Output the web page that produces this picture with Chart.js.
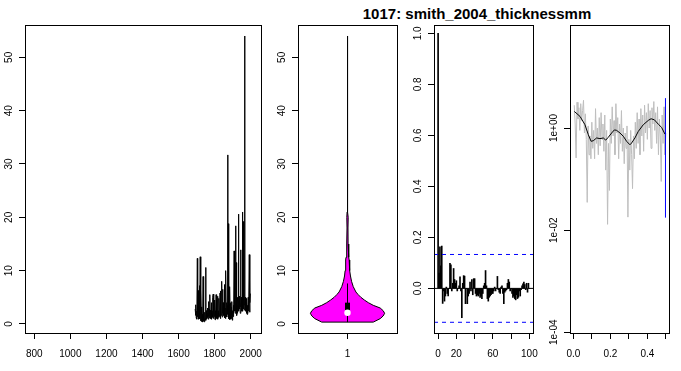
<!DOCTYPE html>
<html>
<head>
<meta charset="utf-8">
<script src="https://cdn.jsdelivr.net/npm/chart.js@4.4.1/dist/chart.umd.min.js"></script>
<style>
  html, body { margin: 0; padding: 0; background: #fff; }
  #wrap { position: relative; width: 681px; height: 371px; overflow: hidden; background: #fff; }
  .panel { position: absolute; top: 0; }
  #title {
    position: absolute; left: 477px; top: 6px; transform: translateX(-50%);
    font: bold 15px "Liberation Sans", Arial, sans-serif; line-height: 15px;
    white-space: nowrap; color: #000;
  }
</style>
</head>
<body>
<div id="wrap">
  <div id="title">1017: smith_2004_thicknessmm</div>
  <canvas id="c1" class="panel"></canvas>
  <canvas id="c2" class="panel"></canvas>
  <canvas id="c3" class="panel"></canvas>
  <canvas id="c4" class="panel"></canvas>
</div>
<script>
// ---- data ----

// panel 1: thickness series, one value every 2 years from 1692
const yearStart = 1692;
const yearStep = 2;
const thickness = [
  2.8, 1.6, 3.6, 1.1, 2.4, 0.9, 12.3, 1.4, 4.0, 6.3,
  0.9, 3.0, 7.2, 1.0, 12.6, 0.6, 6.4, 0.5, 3.2, 0.4,
  1.8, 0.4, 8.9, 0.5, 1.5, 0.4, 2.2, 0.6, 1.0, 10.6,
  0.7, 2.5, 1.0, 2.0, 1.2, 3.0, 0.9, 4.2, 1.4, 2.8,
  1.1, 5.5, 1.0, 2.6, 1.3, 4.0, 0.9, 2.5, 1.2, 5.0,
  5.6, 1.0, 2.8, 1.4, 4.5, 0.8, 2.5, 1.2, 5.5, 1.0,
  3.0, 1.3, 5.2, 0.9, 2.5, 1.2, 4.8, 1.4, 3.0, 5.8,
  1.0, 6.2, 1.6, 3.5, 8.0, 1.3, 6.5, 2.0, 4.0, 1.6,
  3.5, 7.4, 1.2, 3.0, 1.0, 10.0, 2.2, 4.0, 1.3, 3.5,
  31.7, 1.8, 18.8, 1.0, 3.8, 0.8, 7.0, 1.2, 4.0, 0.9,
  3.2, 1.0, 4.2, 0.7, 2.5, 1.4, 3.5, 2.0, 13.7, 2.4,
  4.5, 2.0, 18.4, 2.4, 11.5, 1.6, 3.5, 2.0, 5.0, 2.8,
  20.6, 2.4, 5.2, 2.8, 4.5, 2.0, 13.9, 3.2, 5.0, 2.4,
  4.0, 21.0, 2.4, 19.2, 2.8, 5.5, 2.6, 54.0, 3.5, 5.0,
  2.4, 4.0, 2.0, 4.8, 1.8, 3.5, 2.0, 5.0, 2.4, 4.5,
  13.0, 2.2, 4.0, 5.7
];
const yearTicks = [800, 1000, 1200, 1400, 1600, 1800, 2000];
const valueTicks = [0, 10, 20, 30, 40, 50];

// panel 2: violin outline (value, half width) and box stats
const violinY    = [0.35, 1.0, 1.5, 2.0, 2.5, 3.0, 3.5, 4.0, 4.5, 5.0, 5.5, 6.0, 7.0, 8.0, 9.0, 10.0, 11.0, 12.0, 12.5, 13.0, 15.0, 18.0, 20.0, 21.0, 23.0, 30.0, 54.0];
const violinHalf = [0.26, 0.33, 0.36, 0.375, 0.36, 0.33, 0.26, 0.21, 0.17, 0.135, 0.108, 0.085, 0.058, 0.041, 0.03, 0.024, 0.02, 0.017, 0.015, 0.01, 0.006, 0.005, 0.007, 0.004, 0.004, 0.002, 0.0];
const boxStats = { whiskerLow: 0.35, q1: 1.9, median: 2.1, q3: 4.0, whiskerHigh: 7.6 };

// panel 3: autocorrelation, lags 0..100
const acf = [
  1.0, 0.06, 0.163, 0.088, 0.166, -0.059, -0.01, -0.05, -0.03, 0.005,
  -0.02, -0.03, 0.0, 0.098, 0.092, -0.01, 0.02, 0.078, 0.035, 0.02,
  0.03, -0.01, 0.0, 0.01, 0.045, -0.01, -0.115, 0.02, 0.05, 0.048,
  -0.06, 0.0, -0.06, -0.03, -0.02, 0.025, -0.01, 0.035, -0.025, 0.038,
  0.038, -0.02, -0.03, -0.025, -0.03, -0.02, -0.035, -0.03, -0.04, -0.02,
  0.01, 0.02, 0.07, 0.01, -0.04, -0.05, -0.035, -0.03, -0.025, -0.02,
  -0.02, -0.01, 0.005, -0.01, 0.0, 0.047, -0.005, -0.015, -0.02, 0.005,
  0.01, -0.02, -0.06, -0.015, -0.01, -0.005, 0.02, 0.035, 0.025, -0.01,
  0.0, -0.02, -0.035, -0.03, -0.04, -0.045, -0.025, -0.04, -0.035, -0.01,
  -0.03, -0.005, 0.01, 0.018, 0.025, 0.015, -0.005, 0.02, -0.015, 0.02,
  0.0
];
const acfCI = 0.133;
const lagTicks = [0, 20, 40, 60, 80, 100];
const lagLabels = ['0', '20', '', '60', '', '100'];
const acfTicks = [0, 0.2, 0.4, 0.6, 0.8, 1.0];

// panel 4: raw periodogram (freq 0.005..0.5 step 0.005), smoothed spectrum, CI bar
const freqStep = 0.005;
const specRaw = [
  2.8, 1.2, 0.26, 3.2, 1.5, 2.5, 0.9, 3.0, 1.4, 2.2,
  3.5, 0.8, 1.9, 0.6, 0.035, 1.1, 0.3, 0.7, 0.25, 1.3,
  0.4, 0.9, 0.25, 2.4, 0.5, 1.0, 0.3, 1.6, 0.45, 2.0,
  0.6, 1.2, 0.35, 1.8, 0.15, 0.9, 0.013, 0.5, 0.06, 1.5,
  0.5, 2.6, 0.7, 1.4, 0.3, 3.0, 0.8, 1.6, 0.25, 1.2,
  0.5, 2.2, 0.35, 1.0, 0.2, 0.8, 0.4, 1.1, 0.018, 0.6,
  0.15, 0.9, 0.3, 0.065, 0.7, 0.25, 1.3, 0.4, 2.0, 0.5,
  1.5, 0.3, 2.4, 0.7, 1.8, 0.35, 2.8, 0.8, 2.0, 0.6,
  3.0, 1.0, 2.2, 0.4, 2.5, 1.2, 3.3, 0.9, 2.0, 0.5,
  2.6, 0.3, 1.5, 0.7, 0.09, 1.8, 0.5, 2.6, 0.3, 0.8
];
const smoothFreq = [0.0056, 0.036, 0.063, 0.081, 0.096, 0.108, 0.126, 0.144, 0.162, 0.175, 0.189, 0.207, 0.222, 0.234, 0.252, 0.270, 0.288, 0.306, 0.315, 0.333, 0.351, 0.378, 0.405, 0.420, 0.438, 0.459, 0.477, 0.495];
const smoothSpec = [2.11, 1.69, 1.16, 0.74, 0.55, 0.565, 0.64, 0.62, 0.64, 0.58, 0.66, 0.80, 0.92, 0.90, 0.80, 0.69, 0.55, 0.47, 0.51, 0.64, 0.86, 1.16, 1.41, 1.52, 1.45, 1.19, 1.03, 0.76];
const ciFreq = 0.498;
const ciRange = [0.0176, 3.85];
const freqTicks = [0, 0.1, 0.2, 0.3, 0.4, 0.5];
const freqLabels = ['0.0', '', '0.2', '', '0.4', ''];
const specTicks = [1e-4, 1e-2, 1];
const specLabels = ['1e-04', '1e-02', '1e+00'];

// ---- layout helpers ----
const AXIS_W = 30, AXIS_H = 38, TOP = 25, RIGHT_PAD = 8, H = 371;
const FONT = '"Liberation Sans", Arial, sans-serif';

function place(id, boxLeft, boxRight) {
  const c = document.getElementById(id);
  c.width = boxRight - boxLeft + AXIS_W + RIGHT_PAD;
  c.height = H;
  c.style.left = (boxLeft - AXIS_W) + 'px';
  return c;
}

function axis(pos, type, min, max, ticks, labels) {
  return {
    type: type, position: pos, min: min, max: max,
    afterBuildTicks: s => { s.ticks = ticks.map(v => ({ value: v })); },
    afterFit: s => {
      if (pos === 'bottom') s.height = AXIS_H; else s.width = AXIS_W;
      s.paddingLeft = s.paddingRight = s.paddingTop = s.paddingBottom = 0;
    },
    grid: { display: true, drawOnChartArea: false, drawTicks: true, tickLength: 6, tickColor: '#000', tickWidth: 1, color: '#000', offset: false },
    border: { display: true, color: '#000', width: 1 },
    offset: false,
    ticks: {
      display: pos === 'bottom', autoSkip: false, maxRotation: 0, minRotation: 0,
      padding: 9, color: '#000', font: { family: FONT, size: 10 },
      callback: (v, i) => labels[i]
    },
    _labels: labels
  };
}

// rotated y labels like R's las = 0, plus the box round the plot
const rFrame = {
  id: 'rFrame',
  afterDraw(chart) {
    const ctx = chart.ctx, a = chart.chartArea, s = chart.scales.y;
    const labels = s.options._labels;
    ctx.save();
    ctx.font = '10px ' + FONT;
    ctx.fillStyle = '#000';
    ctx.textAlign = 'center';
    ctx.textBaseline = 'middle';
    s.ticks.forEach((t, i) => {
      const y = s.getPixelForValue(t.value);
      ctx.save();
      ctx.translate(a.left - 16, y);
      ctx.rotate(-Math.PI / 2);
      ctx.fillText(labels[i], 0, 0);
      ctx.restore();
    });
    ctx.strokeStyle = '#000';
    ctx.lineWidth = 1;
    ctx.strokeRect(Math.round(a.left) + 0.5, Math.round(a.top) + 0.5, Math.round(a.right - a.left), Math.round(a.bottom - a.top));
    ctx.restore();
  }
};

function baseOptions(scales) {
  return {
    responsive: false,
    animation: false,
    devicePixelRatio: 1,
    layout: { padding: { top: TOP, left: 0, right: RIGHT_PAD, bottom: 0 } },
    plugins: { legend: { display: false }, tooltip: { enabled: false } },
    elements: { point: { radius: 0 }, line: { tension: 0 } },
    scales: scales
  };
}

// ---- panel 1: time series ----
const seriesPts = thickness.map((v, i) => ({ x: yearStart + i * yearStep, y: v }));
new Chart(place('c1', 25, 261), {
  type: 'scatter',
  data: { datasets: [{ data: seriesPts, showLine: true, borderColor: '#000', borderWidth: 1, pointRadius: 0 }] },
  options: baseOptions({
    x: axis('bottom', 'linear', 748.4, 2057, yearTicks, yearTicks.map(String)),
    y: axis('left', 'linear', -1.69, 56.06, valueTicks, valueTicks.map(String))
  }),
  plugins: [rFrame]
});

// ---- panel 2: violin ----
const violinPts = violinY.map((y, i) => ({ x: 1 - violinHalf[i], y: y }))
  .concat(violinY.slice().reverse().map((y, i) => ({ x: 1 + violinHalf[violinY.length - 1 - i], y: y })));
violinPts.push(violinPts[0]);
new Chart(place('c2', 298, 397), {
  type: 'scatter',
  data: { datasets: [
    { data: [{ x: 1, y: boxStats.median }], pointRadius: 3.2, pointBackgroundColor: '#fff', pointBorderWidth: 0 },
    { data: [{ x: 1, y: boxStats.q1 }, { x: 1, y: boxStats.q3 }], showLine: true, borderColor: '#000', borderWidth: 5, borderCapStyle: 'butt' },
    { data: [{ x: 1, y: boxStats.whiskerLow }, { x: 1, y: boxStats.whiskerHigh }], showLine: true, borderColor: '#000', borderWidth: 1 },
    { data: violinPts, showLine: true, borderColor: '#000', borderWidth: 1, backgroundColor: '#FF00FF', fill: 'shape' }
  ] },
  options: baseOptions({
    x: axis('bottom', 'linear', 0.5, 1.5, [1], ['1']),
    y: axis('left', 'linear', -1.69, 56.06, valueTicks, valueTicks.map(String))
  }),
  plugins: [rFrame]
});

// ---- panel 3: ACF ----
const lagMin = -4.5, lagMax = 104;
new Chart(place('c3', 434, 533), {
  type: 'bar',
  data: { datasets: [
    { type: 'line', data: [{ x: lagMin, y: acfCI }, { x: lagMax, y: acfCI }], borderColor: '#0000FF', borderWidth: 1, borderDash: [4, 4], pointRadius: 0 },
    { type: 'line', data: [{ x: lagMin, y: -acfCI }, { x: lagMax, y: -acfCI }], borderColor: '#0000FF', borderWidth: 1, borderDash: [4, 4], pointRadius: 0 },
    { type: 'line', data: [{ x: lagMin, y: 0 }, { x: lagMax, y: 0 }], borderColor: '#000', borderWidth: 1, pointRadius: 0 },
    { data: acf.map((v, i) => ({ x: i, y: v })), backgroundColor: '#000', borderWidth: 0, barThickness: 1, grouped: false }
  ] },
  options: baseOptions({
    x: axis('bottom', 'linear', lagMin, lagMax, lagTicks, lagLabels),
    y: axis('left', 'linear', -0.175, 1.033, acfTicks, acfTicks.map(v => v.toFixed(1)))
  }),
  plugins: [rFrame]
});

// ---- panel 4: spectrum ----
new Chart(place('c4', 570, 669), {
  type: 'scatter',
  data: { datasets: [
    { data: [{ x: ciFreq, y: ciRange[0] }, { x: ciFreq, y: ciRange[1] }], showLine: true, borderColor: '#0000FF', borderWidth: 1 },
    { data: smoothFreq.map((f, i) => ({ x: f, y: smoothSpec[i] })), showLine: true, borderColor: '#000', borderWidth: 1 },
    { data: specRaw.map((v, i) => ({ x: (i + 1) * freqStep, y: v })), showLine: true, borderColor: '#BEBEBE', borderWidth: 1 }
  ] },
  options: baseOptions({
    x: axis('bottom', 'linear', -0.018, 0.517, freqTicks, freqLabels),
    y: axis('left', 'logarithmic', Math.pow(10, -4.014), Math.pow(10, 2.018), specTicks, specLabels)
  }),
  plugins: [rFrame]
});
</script>
</body>
</html>
